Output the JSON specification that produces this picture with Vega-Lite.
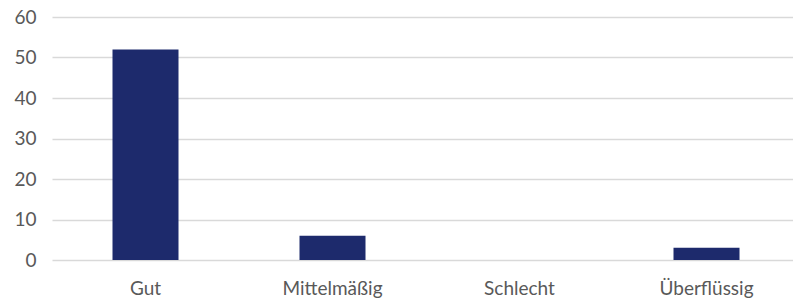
{
  "$schema": "https://vega.github.io/schema/vega-lite/v6.json",
  "autosize": {"type": "none"},
  "padding": {"left": 52, "top": 17, "right": 0, "bottom": 42},
  "width": 748,
  "height": 243,
  "background": "white",
  "config": {
    "view": {"stroke": null},
    "font": "Lato"
  },
  "data": {
    "values": [
      {"Kategorie": "Gut", "Anzahl": 52},
      {"Kategorie": "Mittelmäßig", "Anzahl": 6},
      {"Kategorie": "Schlecht", "Anzahl": 0},
      {"Kategorie": "Überflüssig", "Anzahl": 3}
    ]
  },
  "mark": {"type": "bar", "color": "#1D2A6C", "size": 66},
  "encoding": {
    "x": {
      "field": "Kategorie",
      "type": "nominal",
      "sort": null,
      "scale": {"paddingInner": 0, "paddingOuter": 0},
      "axis": {
        "title": null,
        "labelAngle": 0,
        "labelFontSize": 19,
        "labelColor": "#595959",
        "labelFont": "Lato",
        "labelPadding": 19,
        "ticks": false,
        "domain": false,
        "grid": false
      }
    },
    "y": {
      "field": "Anzahl",
      "type": "quantitative",
      "scale": {"domain": [0, 60], "nice": false},
      "axis": {
        "title": null,
        "values": [0, 10, 20, 30, 40, 50, 60],
        "labelFontSize": 19,
        "labelColor": "#595959",
        "labelFont": "Lato",
        "labelPadding": 16,
        "ticks": false,
        "domain": false,
        "gridColor": "#D9D9D9",
        "gridWidth": 1.3
      }
    }
  }
}
